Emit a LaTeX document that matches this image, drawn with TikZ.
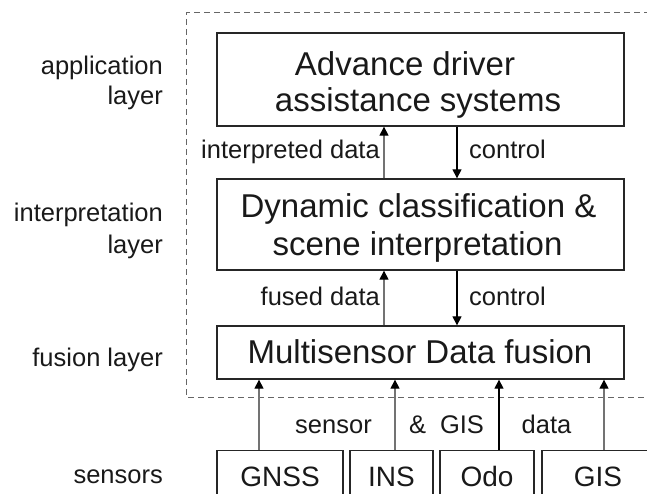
\documentclass[tikz,border=0pt]{standalone}
\usepackage{fontspec}
\setmainfont{Liberation Sans}
\usetikzlibrary{arrows.meta}
\begin{document}
\begin{tikzpicture}[x=1pt,y=-1pt,
  box/.style={draw=black!85, line width=1.3pt, minimum width=407pt, inner sep=0pt},
  big/.style={font=\fontsize{33}{36}\selectfont, anchor=base, inner sep=0pt, text=black!90},
  small/.style={font=\fontsize{25.5}{30}\selectfont, anchor=base, inner sep=0pt, text=black!90},
  lbl/.style={small, anchor=base east},
  sens/.style={draw=black!85, line width=1.3pt, anchor=north, inner xsep=0pt, inner ysep=16pt,
    text height=20pt, text depth=60pt, font=\fontsize{28}{30}\selectfont, text=black!90},
  tip/.style={-{Triangle[length=9pt,width=9pt,color=black]}},
  up/.style={tip, draw=black!55, line width=1.2pt},
  down/.style={tip, draw=black, line width=1.2pt},
  frame/.style={draw=black!60, line width=1pt, dash pattern=on 6pt off 4pt}]
\useasboundingbox (0,0) rectangle (647,494);
\clip (0,0) rectangle (647,494);

% dashed frame
\coordinate (fr1) at (660,13);
\coordinate (fr2) at (186,397);
\coordinate (fr3) at (660,397);
\draw[frame] (fr1) -| (fr2) -- (fr3);

% layer boxes
\node[box, minimum height=93pt] (adas) at (420.5,79.5) {};
\node[box, minimum height=91pt] (interp) at (420.5,224.5) {};
\node[box, minimum height=53pt] (fusion) at (420.5,352.5) {};

\node[big] (adas1) at (405,76) {Advance driver};
\node[big] (adas2) at (418,112) {assistance systems};
\node[big] (int1) at (418.5,218) {Dynamic classification \&};
\node[big] (int2) at (417.5,255) {scene interpretation};
\node[big] (fus1) at (420,363) {Multisensor Data fusion};

% left labels
\node[lbl] (la1) at (163,75) {application};
\node[lbl] (la2) at (163,105) {layer};
\node[lbl] (li1) at (163,222) {interpretation};
\node[lbl] (li2) at (163,253) {layer};
\node[lbl] (lf) at (163,366) {fusion layer};
\node[lbl] (ls) at (163,483) {sensors};

% inter-layer arrows
\coordinate (xu) at (384,0);
\coordinate (xd) at (457,0);
\draw[up] (interp.north -| xu) -- (adas.south -| xu);
\draw[down] (adas.south -| xd) -- (interp.north -| xd);
\draw[up] (fusion.north -| xu) -- (interp.south -| xu);
\draw[down] (interp.south -| xd) -- (fusion.north -| xd);

\node[small, anchor=base east] (idata) at (380,159) {interpreted data};
\node[small, anchor=base west] (ctrl1) at (469,159) {control};
\node[small, anchor=base east] (fdata) at (380,305) {fused data};
\node[small, anchor=base west] (ctrl2) at (469,305) {control};

% sensors
\node[sens, minimum width=126pt] (gnss) at (280,450) {GNSS};
\node[sens, minimum width=83pt] (ins) at (391.5,450) {INS};
\node[sens, minimum width=94pt] (odo) at (487,450) {Odo};
\node[sens, minimum width=112pt] (gis) at (598,450) {GIS};

\coordinate (x1) at (259,0);
\coordinate (x2) at (395,0);
\coordinate (x3) at (499,0);
\coordinate (x4) at (604,0);
\draw[up] (gnss.north -| x1) -- (fusion.south -| x1);
\draw[up] (ins.north -| x2) -- (fusion.south -| x2);
\draw[down] (odo.north -| x3) -- (fusion.south -| x3);
\draw[up] (gis.north -| x4) -- (fusion.south -| x4);

\node[small] (s1) at (333.5,433) {sensor};
\node[small] (s2) at (417.5,433) {\&};
\node[small] (s3) at (462,433) {GIS};
\node[small] (s4) at (546.5,433) {data};
\end{tikzpicture}
\end{document}
